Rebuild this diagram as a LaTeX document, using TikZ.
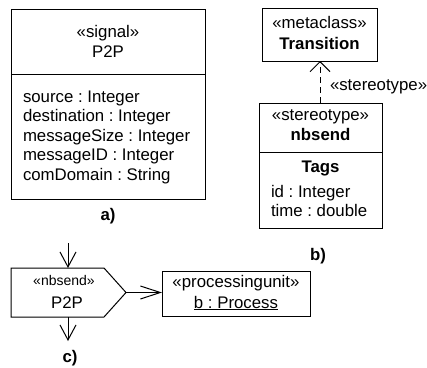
\documentclass[tikz,border=0pt]{standalone}
\usepackage{fontspec}
\setmainfont{Liberation Sans}
\usetikzlibrary{arrows.meta}
\frenchspacing
\begin{document}
\begin{tikzpicture}[x=1pt,y=-1pt,
  every node/.style={inner sep=0pt,outer sep=0pt,font=\fontsize{16.8}{19}\selectfont},
  box/.style={draw,line width=1pt},
  txt/.style={anchor=base},
  ltxt/.style={anchor=base west},
  conn/.style={line width=1pt}
]
\useasboundingbox (0,0) rectangle (427,367);
% a) signal class
\node[box,minimum width=194pt,minimum height=65pt,anchor=north west] (sighead) at (11,9) {};
\node[box,minimum width=194pt,minimum height=125pt,anchor=north west] (sigbody) at (11,74) {};
\node[txt] (sigst) at (108,37) {«signal»};
\node[txt] (signame) at (108,57) {P2P};
\node[ltxt] (a1) at (23,102) {source : Integer};
\node[ltxt] (a2) at (23,121.5) {destination : Integer};
\node[ltxt] (a3) at (23,141) {messageSize : Integer};
\node[ltxt] (a4) at (23,160.5) {messageID : Integer};
\node[ltxt] (a5) at (23,180) {comDomain : String};
\node[txt,font=\fontsize{16.8}{19}\selectfont\bfseries] (la) at (108,220) {a)};
% b) metaclass + stereotype
\node[box,minimum width=115pt,minimum height=53pt,anchor=north west] (trans) at (262,8) {};
\node[txt] (transst) at (319.5,28) {«metaclass»};
\node[txt,font=\fontsize{16.8}{19}\selectfont\bfseries] (transname) at (319.5,49) {Transition};
\node[box,minimum width=123pt,minimum height=49pt,anchor=north west] (nbhead) at (259,103) {};
\node[box,minimum width=123pt,minimum height=76pt,anchor=north west] (nbbody) at (259,152) {};
\node[txt] (nbst) at (320.5,120) {«stereotype»};
\node[txt,font=\fontsize{16.8}{19}\selectfont\bfseries] (nbname) at (320.5,140) {nbsend};
\node[txt,font=\fontsize{16.8}{19}\selectfont\bfseries] (tags) at (320.5,172) {Tags};
\node[ltxt] (t1) at (271,197) {id : Integer};
\node[ltxt] (t2) at (271,216.5) {time : double};
\node[txt,font=\fontsize{16.8}{19}\selectfont\bfseries] (lb) at (318,260) {b)};
\draw[conn,dash pattern=on 6pt off 4pt,-{Straight Barb[length=10pt,width=20pt,line width=1pt]}]
  (nbhead.north -| 320,0) -- (trans.south -| 320,0);
\node[ltxt] (stlab) at (330,90) {«stereotype»};
% c) send signal action
\draw[conn,fill=white] (11,268) -- (104,268) -- (126,292.5) -- (104,317) -- (11,317) -- cycle;
\coordinate (ptip) at (126,292.5);
\node[txt,font=\fontsize{14}{16}\selectfont] (psst) at (64,285) {«nbsend»};
\node[txt] (psname) at (67,308) {P2P};
\coordinate (intop) at (68,243);
\coordinate (inend) at (68,268);
\coordinate (outstart) at (68,317);
\coordinate (outend) at (68,341);
\draw[conn,-{Straight Barb[length=15pt,width=16pt,line width=1pt]}] (intop) -- (inend);
\draw[conn,-{Straight Barb[length=15pt,width=16pt,line width=1pt]}] (outstart) -- (outend);
\node[txt,font=\fontsize{16.8}{19}\selectfont\bfseries] (lc) at (70,362) {c)};
\node[box,minimum width=148pt,minimum height=45pt,anchor=north west] (pu) at (162,271) {};
\node[txt] (pust) at (236,287) {«processingunit»};
\node[txt] (puname) at (236,308) {\underline{b : Process}};
\draw[conn,-{Straight Barb[length=20pt,width=13pt,line width=1pt]}] (ptip) -- (pu.west |- ptip);
\end{tikzpicture}
\end{document}
